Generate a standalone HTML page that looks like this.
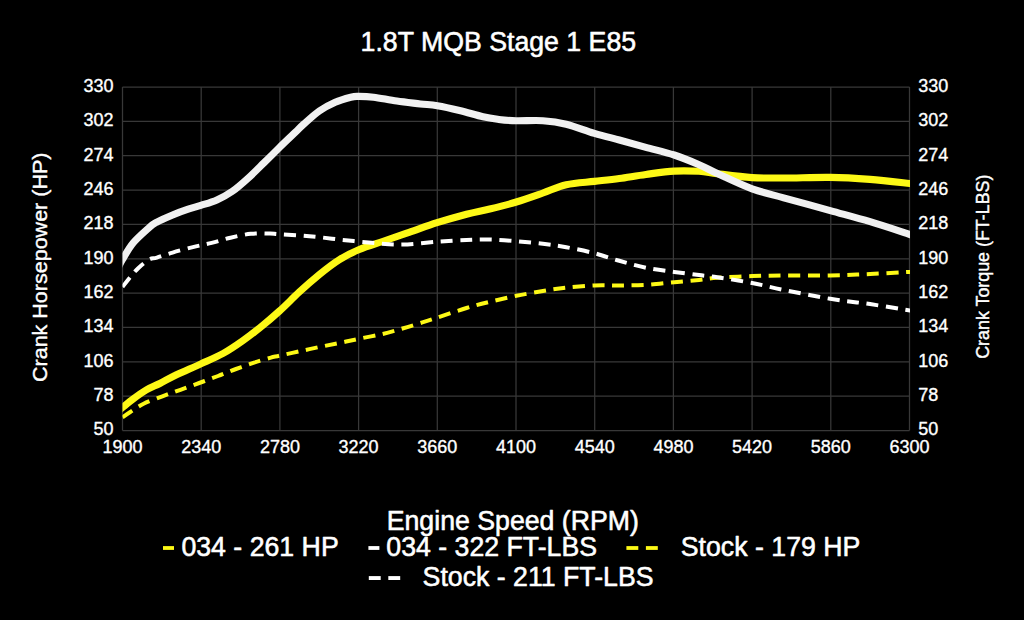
<!DOCTYPE html>
<html><head><meta charset="utf-8"><title>1.8T MQB Stage 1 E85</title>
<style>
html,body{margin:0;padding:0;background:#000;}
body{width:1024px;height:620px;overflow:hidden;}
svg{display:block;font-family:"Liberation Sans",Arial,sans-serif;fill:#fff;}
</style></head><body>
<svg width="1024" height="620" viewBox="0 0 1024 620">
<rect width="1024" height="620" fill="#000"/>
<g stroke="#383838" stroke-width="1.25" fill="none"><line x1="122.50" y1="87.0" x2="122.50" y2="430.5"/><line x1="201.20" y1="87.0" x2="201.20" y2="430.5"/><line x1="279.90" y1="87.0" x2="279.90" y2="430.5"/><line x1="358.60" y1="87.0" x2="358.60" y2="430.5"/><line x1="437.30" y1="87.0" x2="437.30" y2="430.5"/><line x1="516.00" y1="87.0" x2="516.00" y2="430.5"/><line x1="594.70" y1="87.0" x2="594.70" y2="430.5"/><line x1="673.40" y1="87.0" x2="673.40" y2="430.5"/><line x1="752.10" y1="87.0" x2="752.10" y2="430.5"/><line x1="830.80" y1="87.0" x2="830.80" y2="430.5"/><line x1="909.50" y1="87.0" x2="909.50" y2="430.5"/><line x1="122.5" y1="87.00" x2="909.5" y2="87.00"/><line x1="122.5" y1="121.35" x2="909.5" y2="121.35"/><line x1="122.5" y1="155.70" x2="909.5" y2="155.70"/><line x1="122.5" y1="190.05" x2="909.5" y2="190.05"/><line x1="122.5" y1="224.40" x2="909.5" y2="224.40"/><line x1="122.5" y1="258.75" x2="909.5" y2="258.75"/><line x1="122.5" y1="293.10" x2="909.5" y2="293.10"/><line x1="122.5" y1="327.45" x2="909.5" y2="327.45"/><line x1="122.5" y1="361.80" x2="909.5" y2="361.80"/><line x1="122.5" y1="396.15" x2="909.5" y2="396.15"/><line x1="122.5" y1="430.50" x2="909.5" y2="430.50"/></g>
<g font-size="18" stroke="#fff" stroke-width="0.35" stroke-linejoin="round"><text x="113.5" y="91.8" text-anchor="end">330</text><text x="918.3" y="91.8">330</text><text x="113.5" y="126.1" text-anchor="end">302</text><text x="918.3" y="126.1">302</text><text x="113.5" y="160.5" text-anchor="end">274</text><text x="918.3" y="160.5">274</text><text x="113.5" y="194.9" text-anchor="end">246</text><text x="918.3" y="194.9">246</text><text x="113.5" y="229.2" text-anchor="end">218</text><text x="918.3" y="229.2">218</text><text x="113.5" y="263.6" text-anchor="end">190</text><text x="918.3" y="263.6">190</text><text x="113.5" y="297.9" text-anchor="end">162</text><text x="918.3" y="297.9">162</text><text x="113.5" y="332.2" text-anchor="end">134</text><text x="918.3" y="332.2">134</text><text x="113.5" y="366.6" text-anchor="end">106</text><text x="918.3" y="366.6">106</text><text x="113.5" y="400.9" text-anchor="end">78</text><text x="918.3" y="400.9">78</text><text x="113.5" y="435.3" text-anchor="end">50</text><text x="918.3" y="435.3">50</text><text x="122.5" y="452.6" text-anchor="middle">1900</text><text x="201.2" y="452.6" text-anchor="middle">2340</text><text x="279.9" y="452.6" text-anchor="middle">2780</text><text x="358.6" y="452.6" text-anchor="middle">3220</text><text x="437.3" y="452.6" text-anchor="middle">3660</text><text x="516.0" y="452.6" text-anchor="middle">4100</text><text x="594.7" y="452.6" text-anchor="middle">4540</text><text x="673.4" y="452.6" text-anchor="middle">4980</text><text x="752.1" y="452.6" text-anchor="middle">5420</text><text x="830.8" y="452.6" text-anchor="middle">5860</text><text x="909.5" y="452.6" text-anchor="middle">6300</text></g>
<clipPath id="cp"><rect x="122.5" y="60" width="787.5" height="400"/></clipPath>
<g fill="none" stroke-linejoin="round" clip-path="url(#cp)">
<path d="M117.5 411.5 C118.3 410.8 119.9 409.6 122.5 407.5 C125.1 405.4 129.3 401.8 133.3 398.9 C137.3 395.9 142.2 392.4 146.6 389.8 C151.0 387.2 154.8 386.0 159.8 383.5 C164.8 381.0 169.6 378.1 176.5 374.8 C183.4 371.5 193.7 367.2 201.4 363.6 C209.2 360.1 216.1 357.3 223.0 353.5 C229.9 349.7 236.8 344.9 242.9 340.6 C249.0 336.4 253.5 332.9 259.6 328.0 C265.7 323.1 272.9 317.0 279.5 311.0 C286.1 305.0 292.8 298.0 299.4 291.9 C306.0 285.8 312.8 279.9 319.4 274.5 C326.0 269.1 332.6 263.9 339.3 259.7 C346.0 255.5 352.1 252.5 359.3 249.5 C366.5 246.5 374.2 244.3 382.5 241.5 C390.8 238.7 400.0 235.5 409.1 232.4 C418.2 229.3 427.4 225.7 437.0 222.7 C446.6 219.7 457.7 216.5 466.5 214.2 C475.3 211.9 481.4 211.0 489.7 209.0 C498.0 207.0 507.4 204.7 516.3 202.0 C525.2 199.3 534.6 195.9 542.9 193.0 C551.2 190.1 557.6 186.6 566.2 184.7 C574.8 182.8 585.5 182.4 594.4 181.4 C603.2 180.4 610.7 179.7 619.3 178.5 C627.9 177.3 636.8 175.6 645.9 174.4 C655.0 173.2 665.3 171.6 674.2 171.1 C683.1 170.6 691.9 170.9 699.1 171.3 C706.3 171.7 708.4 172.6 717.2 173.7 C726.0 174.8 741.0 176.9 752.1 177.6 C763.2 178.3 770.7 178.0 783.7 178.0 C796.7 178.0 815.8 177.2 830.2 177.4 C844.6 177.6 856.8 178.4 870.1 179.4 C883.4 180.4 902.5 182.7 910.0 183.5 C917.5 184.3 914.2 184.0 915.0 184.1" stroke="#fdf916" stroke-width="7.1"/>
<path d="M117.5 269.0 C118.3 267.4 119.9 263.9 122.5 259.5 C125.1 255.1 128.9 248.1 133.3 242.8 C137.7 237.5 145.2 231.1 149.1 227.6 C153.0 224.1 153.0 224.2 156.9 222.1 C160.8 220.0 167.4 217.2 172.6 215.0 C177.8 212.8 183.4 210.8 188.2 209.2 C193.0 207.6 196.7 206.7 201.5 205.2 C206.3 203.7 211.7 202.3 216.9 200.0 C222.1 197.7 227.4 194.8 232.6 191.2 C237.8 187.5 243.0 182.8 248.2 178.1 C253.4 173.4 258.7 168.0 263.9 162.9 C269.1 157.8 274.3 152.5 279.5 147.4 C284.7 142.3 291.1 136.3 295.2 132.4 C299.3 128.5 299.8 127.6 303.9 124.0 C307.9 120.4 314.3 114.4 319.5 110.8 C324.7 107.2 330.0 104.5 335.2 102.2 C340.4 99.9 346.9 98.2 350.8 97.2 C354.7 96.2 354.9 96.4 358.7 96.4 C362.5 96.4 367.1 96.4 373.5 97.2 C379.9 98.0 389.1 100.0 396.9 101.1 C404.7 102.2 413.7 103.1 420.4 103.9 C427.1 104.7 430.8 104.7 437.3 105.8 C443.8 106.9 451.9 108.7 459.5 110.5 C467.1 112.3 476.5 115.3 483.0 116.8 C489.5 118.3 493.1 118.7 498.7 119.4 C504.2 120.1 508.9 120.6 516.3 120.8 C523.7 121.0 534.6 120.1 542.9 120.7 C551.2 121.3 557.6 122.1 566.2 124.2 C574.8 126.3 585.5 130.7 594.4 133.3 C603.2 135.9 610.7 137.7 619.3 140.0 C627.9 142.3 636.8 144.8 645.9 147.3 C655.0 149.8 665.3 152.1 674.2 155.0 C683.1 157.9 691.6 161.5 699.1 164.7 C706.6 167.9 710.2 170.3 719.0 174.3 C727.8 178.3 741.3 184.9 752.1 188.8 C762.9 192.7 770.7 194.2 783.7 197.8 C796.7 201.4 815.8 206.6 830.2 210.6 C844.6 214.6 856.8 217.7 870.1 221.7 C883.4 225.7 902.5 232.1 910.0 234.5 C917.5 236.9 914.2 235.9 915.0 236.2" stroke="#f1f1f1" stroke-width="7.1"/>
<path d="M122.5 417.3 C123.8 416.4 126.8 414.2 130.3 412.0 C133.8 409.8 138.2 406.4 143.6 403.8 C148.9 401.2 156.3 398.6 162.4 396.3 C168.5 394.0 174.3 392.0 180.4 389.8 C186.5 387.6 192.9 385.3 199.2 383.0 C205.5 380.7 211.9 378.3 218.0 376.0 C224.1 373.7 230.0 371.2 236.0 369.0 C242.0 366.8 248.3 364.6 254.0 362.7 C259.7 360.8 265.9 359.0 270.1 357.8 C274.4 356.6 274.6 356.8 279.5 355.7 C284.4 354.6 292.8 352.8 299.4 351.3 C306.0 349.9 312.8 348.4 319.4 347.0 C326.0 345.6 332.6 344.4 339.3 343.0 C346.0 341.6 352.1 340.2 359.3 338.7 C366.5 337.2 375.3 335.7 382.5 334.0 C389.7 332.3 395.9 330.4 402.5 328.5 C409.1 326.6 416.7 324.2 422.4 322.4 C428.1 320.6 429.2 320.2 436.6 317.8 C444.0 315.4 457.6 310.7 466.5 308.0 C475.4 305.3 481.4 303.8 489.7 301.8 C498.0 299.8 507.4 297.6 516.3 295.8 C525.2 294.0 534.6 292.4 542.9 291.0 C551.2 289.6 557.6 288.6 566.2 287.7 C574.8 286.8 585.5 285.9 594.4 285.5 C603.2 285.1 610.7 285.6 619.3 285.5 C627.9 285.4 636.8 285.4 645.9 284.9 C655.0 284.3 665.3 283.0 674.2 282.2 C683.1 281.4 691.9 280.6 699.1 279.9 C706.3 279.2 708.4 278.4 717.2 277.8 C726.0 277.2 741.0 276.5 752.1 276.1 C763.2 275.7 770.7 275.6 783.7 275.5 C796.7 275.4 815.8 275.8 830.2 275.5 C844.6 275.2 856.8 274.6 870.1 274.0 C883.4 273.4 902.5 272.3 910.0 271.9 C917.5 271.5 914.2 271.7 915.0 271.6" stroke="#fdf916" stroke-width="4.0" stroke-dasharray="12 7.63"/>
<path d="M122.5 287.0 C123.8 285.3 127.7 280.0 130.3 276.9 C132.9 273.8 135.1 271.1 138.2 268.2 C141.3 265.3 146.0 261.4 149.1 259.6 C152.2 257.8 153.0 258.8 156.9 257.6 C160.8 256.4 166.6 254.3 172.6 252.6 C178.6 250.8 186.4 248.7 192.9 247.1 C199.4 245.5 205.4 244.5 211.7 242.9 C218.0 241.3 224.0 239.2 230.5 237.7 C237.0 236.2 244.2 234.5 250.8 233.8 C257.4 233.1 265.3 233.4 270.1 233.5 C274.9 233.6 272.9 233.8 279.5 234.2 C286.1 234.6 298.9 235.2 309.4 236.2 C319.9 237.1 331.5 238.7 342.6 239.9 C353.7 241.1 365.9 242.4 375.9 243.2 C385.9 244.0 392.4 244.7 402.5 244.5 C412.6 244.3 425.9 242.6 436.6 241.8 C447.3 241.0 457.6 240.3 466.5 239.9 C475.4 239.5 481.4 239.3 489.7 239.5 C498.0 239.7 507.4 240.5 516.3 241.2 C525.2 241.9 534.6 242.8 542.9 243.8 C551.2 244.8 557.6 245.6 566.2 247.2 C574.8 248.8 585.5 250.9 594.4 253.2 C603.2 255.5 610.7 258.4 619.3 260.8 C627.9 263.2 636.8 265.8 645.9 267.7 C655.0 269.6 665.3 270.8 674.2 272.0 C683.1 273.2 691.9 274.2 699.1 275.1 C706.3 276.0 708.4 275.9 717.2 277.2 C726.0 278.5 741.0 280.9 752.1 283.0 C763.2 285.1 770.7 287.3 783.7 289.9 C796.7 292.5 815.8 296.4 830.2 298.8 C844.6 301.2 856.8 302.2 870.1 304.1 C883.4 306.1 902.5 309.3 910.0 310.5 C917.5 311.7 914.2 311.2 915.0 311.3" stroke="#ffffff" stroke-width="4.0" stroke-dasharray="12 7.64"/>
</g>
<g stroke="#fff" stroke-width="0.55" stroke-linejoin="round" font-size="26.7">
<text transform="translate(360.6,51) scale(1,1.055)">1.8T MQB Stage 1 E85</text>
<text transform="translate(386.7,529.6) scale(1,1.055)">Engine Speed (RPM)</text>
<text transform="translate(181.4,555.9) scale(1,1.055)">034 - 261 HP</text>
<text transform="translate(386.3,555.9) scale(1,1.055)">034 - 322 FT-LBS</text>
<text transform="translate(680.8,555.9) scale(1,1.055)">Stock - 179 HP</text>
<text transform="translate(422.6,585.9) scale(1,1.055)">Stock - 211 FT-LBS</text>
</g>
<g stroke="#fff" stroke-width="0.4" stroke-linejoin="round">
<text transform="translate(47,382) rotate(-90) scale(1.045,1)" font-size="20.6">Crank Horsepower (HP)</text>
<text transform="translate(989,358.8) rotate(-90) scale(1.015,1)" font-size="17.6">Crank Torque (FT-LBS)</text>
</g>
<rect x="163" y="546.1" width="11" height="3.8" fill="#fdf916"/>
<rect x="368.4" y="546.1" width="11" height="3.8" fill="#fff"/>
<rect x="626.4" y="546.1" width="11.9" height="3.8" fill="#fdf916"/><rect x="645.9" y="546.1" width="11.9" height="3.8" fill="#fdf916"/>
<rect x="368.8" y="576.1" width="11.9" height="3.9" fill="#fff"/><rect x="388.3" y="576.1" width="11.9" height="3.9" fill="#fff"/>
</svg>
</body></html>
